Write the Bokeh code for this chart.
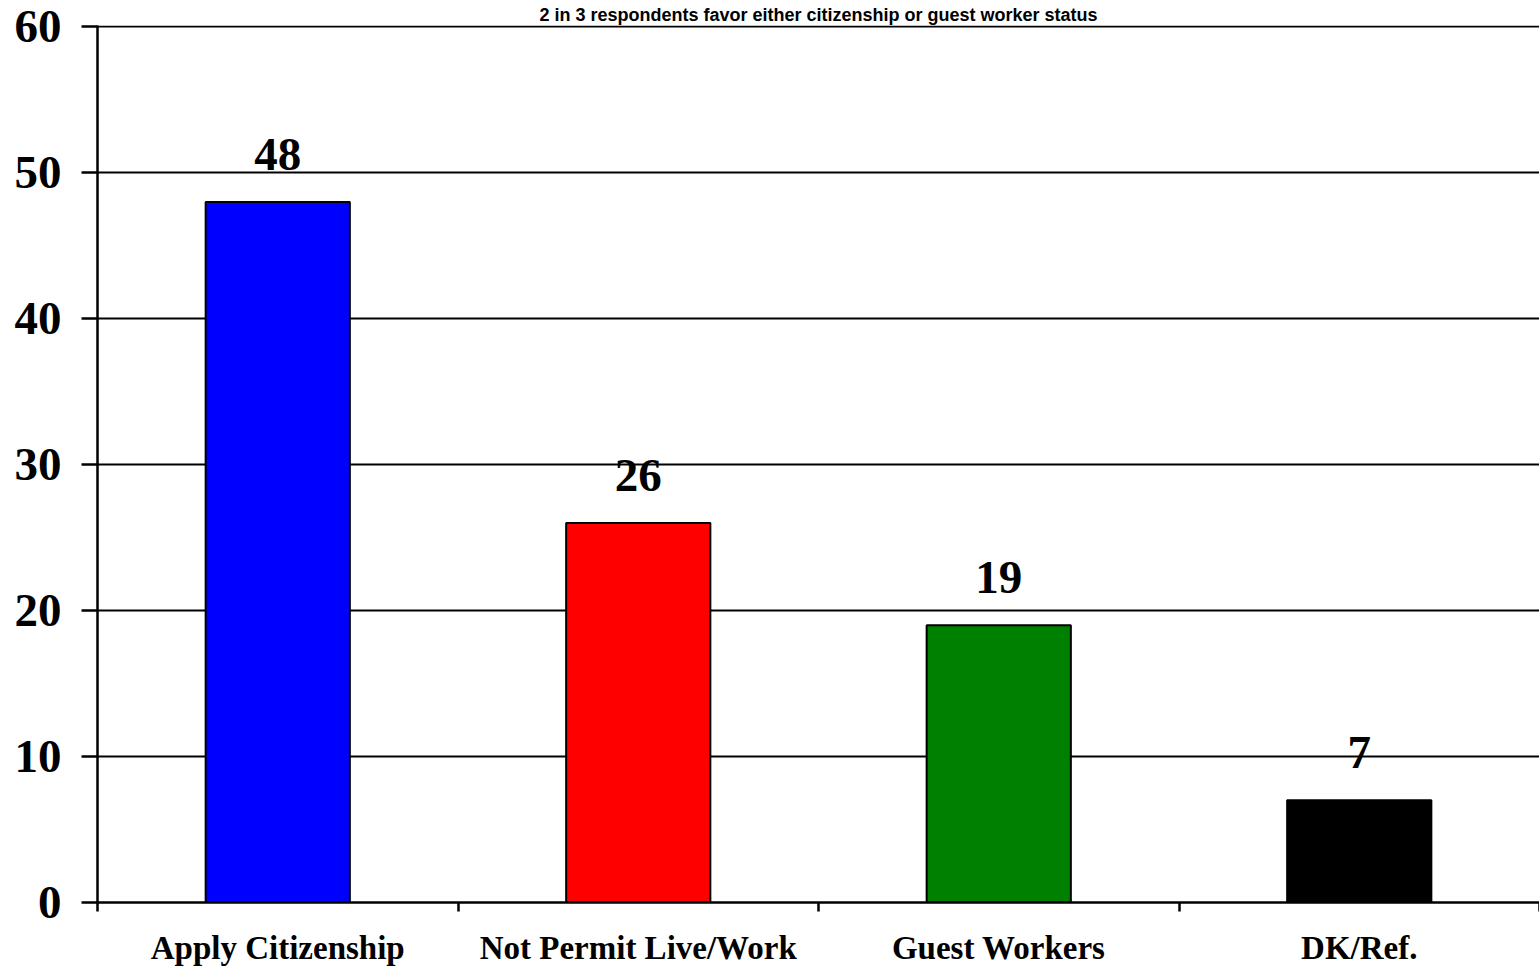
from bokeh.plotting import figure
from bokeh.models import (Range1d, LinearAxis, FixedTicker,
                          LabelSet, ColumnDataSource, Grid)
from bokeh.embed import file_html
from bokeh.resources import INLINE

title_text = "2 in 3 respondents favor either citizenship or guest worker status"
categories = ["Apply Citizenship", "Not Permit Live/Work", "Guest Workers", "DK/Ref."]
values = [48, 26, 19, 7]
colors = ["#0000FF", "#FF0000", "#008000", "#000000"]
y_ticks = [0, 10, 20, 30, 40, 50, 60]

n = len(categories)
centers = [i + 0.5 for i in range(n)]
src = ColumnDataSource(dict(x=centers, val=values, color=colors,
                            label=[str(v) for v in values]))

p = figure(x_range=Range1d(0, n), y_range=Range1d(0, 60.1),
           width=1539, height=968, output_backend="svg", toolbar_location=None,
           x_axis_location=None, y_axis_location=None,
           min_border_left=97, min_border_top=25, min_border_right=0, min_border_bottom=0)
p.outline_line_color = None
p.background_fill_color = "white"
p.border_fill_color = "white"
p.xgrid.visible = False
p.ygrid.visible = False

p.title.text = title_text
p.title.align = "center"
p.title.text_font = "Liberation Sans"
p.title.text_font_style = "bold"
p.title.text_font_size = "18px"
p.title.text_color = "black"
p.title.standoff = 2
p.title.offset = 0

serif = "Liberation Serif"

# y axis
yax = LinearAxis(ticker=FixedTicker(ticks=y_ticks))
yax.major_label_text_font = serif
yax.major_label_text_font_style = "bold"
yax.major_label_text_font_size = "47px"
yax.major_label_text_color = "black"
yax.major_tick_out = 16
yax.major_tick_in = 0
yax.major_tick_line_width = 2.5
yax.major_tick_line_color = "black"
yax.minor_tick_line_color = None
yax.axis_line_width = 2.5
yax.axis_line_color = "black"
yax.major_label_standoff = 20
p.add_layout(yax, "left")

p.add_layout(Grid(dimension=1, ticker=FixedTicker(ticks=y_ticks),
                  grid_line_color="black", grid_line_width=2))

# x axis: ticks at category boundaries
xtick = LinearAxis(ticker=FixedTicker(ticks=list(range(n + 1))))
xtick.major_label_text_font_size = "0px"
xtick.major_label_text_color = None
xtick.major_label_standoff = 0
xtick.major_tick_out = 9
xtick.major_tick_in = 0
xtick.major_tick_line_width = 2.5
xtick.minor_tick_line_color = None
xtick.axis_line_width = 2.5
xtick.axis_line_color = "black"
p.add_layout(xtick, "below")

# x axis: category labels at centres
xlab = LinearAxis(ticker=FixedTicker(ticks=centers))
xlab.major_label_overrides = {c: cat for c, cat in zip(centers, categories)}
xlab.axis_line_color = None
xlab.major_tick_line_color = None
xlab.minor_tick_line_color = None
xlab.major_label_text_font = serif
xlab.major_label_text_font_style = "bold"
xlab.major_label_text_font_size = "33px"
xlab.major_label_text_color = "black"
xlab.major_label_standoff = 12
p.add_layout(xlab, "below")

p.vbar(x="x", top="val", width=0.4, source=src, fill_color="color",
       line_color="black", line_width=2)

labels = LabelSet(x="x", y="val", text="label", source=src, y_offset=32,
                  text_align="center", text_baseline="alphabetic",
                  text_font=serif, text_font_style="bold", text_font_size="47px",
                  text_color="black")
p.add_layout(labels)

open("out.html", "w").write(file_html(p, INLINE))
